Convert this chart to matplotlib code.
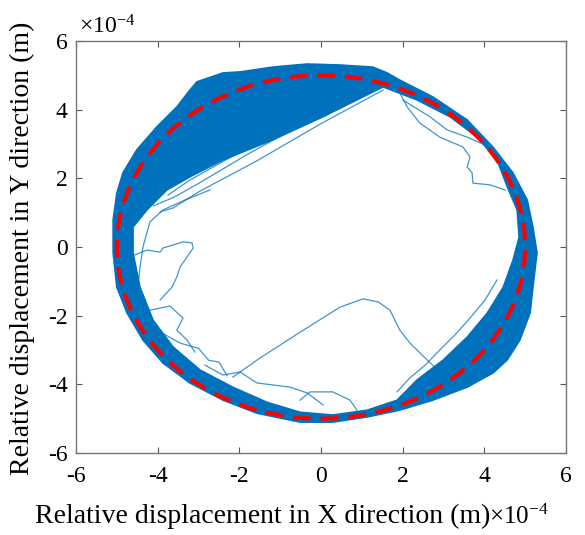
import numpy as np
import matplotlib
matplotlib.use("Agg")
import matplotlib.pyplot as plt
from matplotlib.patches import Circle, Polygon

plt.rcParams['font.family'] = ['Liberation Serif', 'DejaVu Serif']
plt.rcParams['mathtext.fontset'] = 'custom'
plt.rcParams['mathtext.rm'] = 'Liberation Serif'
plt.rcParams['axes.unicode_minus'] = False

# ---- data (units of 1e-4 m) ----
clearance_radius = 5.0

# outer edge of dense trajectory band
outer_x = [-5.09, -5.00, -4.85, -4.51, -4.02, -3.53, -3.21, -3.04, -2.40, -1.98, -1.18, -0.34,
           0.47, 1.27, 1.62, 1.93, 2.74, 3.58, 4.21, 4.70, 5.05, 5.19, 5.29, 5.19, 5.12, 4.87,
           4.56, 4.21, 3.58, 2.74, 1.93, 1.13, 0.29, -0.51, -0.76, -1.57, -2.40, -3.21, -3.87,
           -4.36, -4.75, -5.00, -5.09]
outer_y = [0.79, 1.57, 2.16, 2.83, 3.50, 4.08, 4.57, 4.81, 5.07, 5.10, 5.24, 5.33,
           5.30, 5.24, 5.07, 4.86, 4.37, 3.70, 2.91, 2.16, 1.37, 0.58, -0.17, -1.17, -1.92, -2.71,
           -3.29, -3.67, -4.08, -4.46, -4.75, -4.95, -5.10, -5.10, -5.04, -4.84, -4.46, -3.96, -3.38,
           -2.71, -1.92, -1.17, -0.17]

# inner edge of dense trajectory band
inner_x = [-4.60, -4.60, -4.26, -3.77, -3.21, -2.40, -1.18, 0.05, 1.52, 2.35, 3.16, 3.82, 4.31,
           4.56, 4.80, 4.85, 4.70, 4.46, 4.07, 3.58, 2.99, 2.35, 1.86, 1.13, 0.29, -0.51, -1.32,
           -2.16, -2.96, -3.62, -4.11, -4.43]
inner_y = [-0.17, 0.58, 1.08, 1.66, 2.04, 2.53, 3.12, 3.79, 4.66, 4.28, 3.79, 3.20, 2.53,
           1.75, 1.08, 0.29, -0.38, -1.17, -1.92, -2.62, -3.29, -3.87, -4.46, -4.75, -4.89, -4.81, -4.52,
           -4.08, -3.58, -2.91, -2.13, -1.17]

# individual stray trajectories
traj_a_x = [-2.16, -1.49, -0.51, 0.47, 1.03, 1.40, 1.69, 1.93, 2.18, 2.60, 2.91]
traj_a_y = [-3.79, -3.23, -2.48, -1.75, -1.51, -1.60, -1.84, -2.42, -2.80, -3.29, -3.64]
traj_b_x = [-4.56, -4.26, -3.94, -3.87, -3.62, -3.38, -3.16, -3.13, -3.28, -3.45, -3.53, -3.65, -3.94]
traj_b_y = [-0.23, -0.09, -0.15, -0.03, 0.06, 0.15, 0.12, -0.03, -0.29, -0.58, -0.87, -1.17, -1.54]
traj_c_x = [-2.72, -3.33, -3.87, -4.19, -4.36, -4.43, -4.48]
traj_c_y = [1.66, 1.37, 1.08, 0.73, 0.00, -0.58, -1.11]
traj_d1_x = [1.52, -0.02, -1.57, -2.96, -3.62, -3.94]
traj_d1_y = [4.57, 3.58, 2.51, 1.63, 1.14, 1.02]
traj_d2_x = [1.52, -0.51, -1.98, -3.21, -3.75]
traj_d2_y = [4.66, 3.55, 2.77, 1.95, 1.51]
traj_d3_x = [1.45, -0.30, -1.80, -3.00, -3.60, -4.10]
traj_d3_y = [4.70, 3.68, 2.70, 1.85, 1.45, 1.20]
traj_e_x = [1.93, 2.11, 2.42, 2.91, 3.48, 3.65, 3.58, 3.70, 3.72, 4.14, 4.51]
traj_e_y = [4.49, 4.08, 3.61, 3.20, 2.91, 2.62, 2.33, 2.16, 1.86, 1.81, 1.66]
traj_f_x = [2.01, 2.67, 3.09, 3.58, 4.02]
traj_f_y = [4.28, 3.79, 3.41, 3.20, 2.97]
traj_g1_x = [-4.19, -3.70, -3.38, -3.53, -3.28, -3.09]
traj_g1_y = [-1.84, -1.72, -2.07, -2.42, -2.71, -3.06]
traj_g2_x = [-2.84, -2.40, -1.98, -1.57, -0.76, -0.34, 0.05]
traj_g2_y = [-3.44, -3.73, -3.64, -3.96, -4.08, -4.25, -4.60]
traj_g3_x = [-0.51, -0.27, 0.29, 0.71, 0.88]
traj_g3_y = [-4.46, -4.22, -4.22, -4.46, -4.75]
traj_g4_x = [-3.90, -3.45, -3.00, -2.75, -2.50, -2.30]
traj_g4_y = [-2.50, -2.80, -2.95, -3.30, -3.35, -3.75]
traj_h_x = [1.86, 2.18, 2.55, 2.91, 3.28, 3.65, 4.02, 4.31]
traj_h_y = [-4.22, -3.81, -3.44, -3.00, -2.56, -2.07, -1.54, -0.96]

ticks = [-6, -4, -2, 0, 2, 4, 6]

blue = '#0072BD'

fig = plt.figure(figsize=(5.85, 5.35), dpi=100)
ax = fig.add_axes([76/585, 1 - 453/535, 490/585, 412/535])

ax.add_patch(Polygon(np.column_stack([outer_x, outer_y]), closed=True,
                     facecolor=blue, edgecolor=blue, linewidth=1.2, zorder=2))
ax.add_patch(Polygon(np.column_stack([inner_x, inner_y]), closed=True,
                     facecolor='white', edgecolor=blue, linewidth=1.0, zorder=3))

strays = [(traj_a_x, traj_a_y), (traj_b_x, traj_b_y), (traj_c_x, traj_c_y),
          (traj_d1_x, traj_d1_y), (traj_d2_x, traj_d2_y), (traj_d3_x, traj_d3_y),
          (traj_e_x, traj_e_y), (traj_f_x, traj_f_y), (traj_g1_x, traj_g1_y),
          (traj_g2_x, traj_g2_y), (traj_g3_x, traj_g3_y), (traj_g4_x, traj_g4_y),
          (traj_h_x, traj_h_y)]
for sx, sy in strays:
    ax.plot(sx, sy, color=blue, lw=0.9, alpha=0.75, zorder=4)

ax.add_patch(Circle((0, 0), clearance_radius, fill=False, edgecolor='#FF0000',
                    linewidth=3, linestyle=(0, (4.2, 2.4)), zorder=5))

ax.set_xlim(-6, 6)
ax.set_ylim(-6, 6)
ax.set_xticks(ticks)
ax.set_yticks(ticks)
ax.set_xticklabels([str(t) for t in ticks])
ax.set_yticklabels([str(t) for t in ticks])
ax.tick_params(direction='in', length=4, width=0.8, colors='#555555',
               labelcolor='black', labelsize=17, top=True, right=True)
ax.tick_params(axis='x', pad=9)
ax.tick_params(axis='y', pad=6)
for s in ax.spines.values():
    s.set_color('#777777')
    s.set_linewidth(1.0)

fig.text(35/585, 1 - 523/535, 'Relative displacement in X direction (m)',
         fontsize=20, ha='left', va='baseline')
fig.text(22/585, 1 - 248/535, 'Relative displacement in Y direction (m)',
         fontsize=20, ha='center', va='center', rotation=90)

fig.text(79/585, 1 - 33/535, r'$\times\mathrm{10^{-4}}$', fontsize=17, va='baseline', ha='left')
fig.text(489/585, 1 - 524/535, r'$\times\mathrm{10^{-4}}$', fontsize=18, va='baseline', ha='left')

fig.savefig('out.png', dpi=100)
